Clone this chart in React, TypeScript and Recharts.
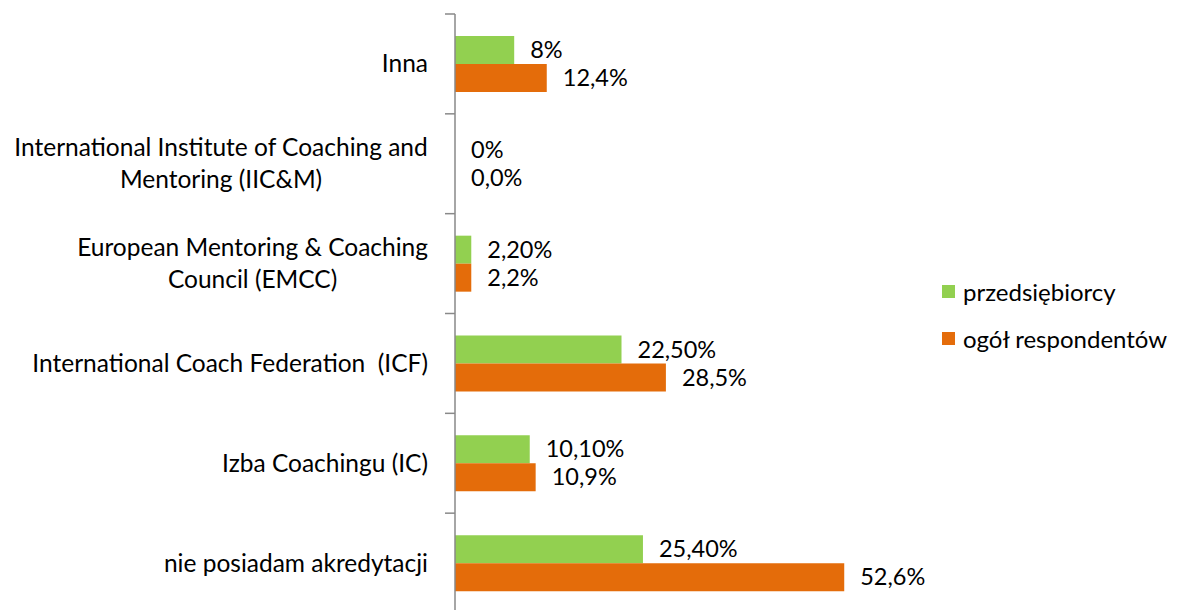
import React from "react";
import { ComposedChart, Bar, Line, XAxis, YAxis, LabelList } from "recharts";

const categories = [
  "Inna",
  "International Institute of Coaching and\nMentoring (IIC&M)",
  "European Mentoring & Coaching\nCouncil (EMCC)",
  "International Coach Federation  (ICF)",
  "Izba Coachingu (IC)",
  "nie posiadam akredytacji",
];
const przedsiebiorcy = [8, 0, 2.2, 22.5, 10.1, 25.4];
const przedsiebiorcyLabels = ["8%", "0%", "2,20%", "22,50%", "10,10%", "25,40%"];
const ogol = [12.4, 0, 2.2, 28.5, 10.9, 52.6];
const ogolLabels = ["12,4%", "0,0%", "2,2%", "28,5%", "10,9%", "52,6%"];
const seriesNames = ["przedsiębiorcy", "ogół respondentów"];
const seriesColors = ["#92D050", "#E46C0A"];

const data = categories.map((c, i) => ({
  name: c,
  p: przedsiebiorcy[i],
  pl: przedsiebiorcyLabels[i],
  o: ogol[i],
  ol: ogolLabels[i],
}));

const FONT = "Lato, 'Noto Sans', sans-serif";
const FS = 24.5;
const LFS = 23.5;
const LEGFS = 24;
const W = 1170;
const H = 610;
const M = { top: 6, right: 279, bottom: 5, left: 0 };
const BAND = (H - M.top - M.bottom) / categories.length;
const BAR = 28;

let ctx: CanvasRenderingContext2D | null = null;
function measure(t: string) {
  if (!ctx) {
    const c = document.createElement("canvas");
    ctx = c.getContext("2d");
  }
  if (!ctx) return t.length * FS * 0.5;
  ctx.font = `${FS}px Lato`;
  return ctx.measureText(t).width;
}

const CategoryTick = (props: any) => {
  const { x, y, payload } = props;
  const lines: string[] = String(payload.value).split("\n");
  const maxW = Math.max(...lines.map(measure));
  const right = x - 27;
  const cx = right - maxW / 2;
  const lh = 32;
  const startY = y - ((lines.length - 1) * lh) / 2;
  const idx = payload.index;
  return (
    <g>
      <line x1={x - 10} x2={x} y1={y - BAND / 2} y2={y - BAND / 2} stroke="#898989" strokeWidth={1.5} />
      {idx === categories.length - 1 && (
        <line x1={x - 10} x2={x} y1={y + BAND / 2} y2={y + BAND / 2} stroke="#898989" strokeWidth={1.5} />
      )}
      <text
        x={cx}
        y={startY}
        textAnchor="middle"
        fontFamily={FONT}
        fontSize={FS}
        fill="#000"
        style={{ whiteSpace: "pre" }}
      >
        {lines.map((l, i) => (
          <tspan key={i} x={cx} y={startY + i * lh} dy="0.35em">
            {l}
          </tspan>
        ))}
      </text>
    </g>
  );
};

const makeLabel = (shift: number) => (props: any) => {
  const { x, y, value } = props;
  return (
    <text
      x={x + 16}
      y={y + shift}
      dy="0.35em"
      fontFamily={FONT}
      fontSize={LFS}
      fill="#000"
      textAnchor="start"
    >
      {value}
    </text>
  );
};

export default function App() {
  return (
    <div style={{ position: "relative", width: W, height: H }}>
      <ComposedChart
        width={W}
        height={H}
        data={data}
        layout="vertical"
        margin={M}
        barGap={0}
        style={{ fontFamily: FONT }}
      >
        <XAxis type="number" hide domain={[0, 60]} />
        <YAxis
          type="category"
          dataKey="name"
          width={447}
          axisLine={{ stroke: "#898989", strokeWidth: 1.5 }}
          tickLine={false}
          tickSize={0}
          tickMargin={0}
          interval={0}
          tick={<CategoryTick />}
        />
        <Bar dataKey="p" name={seriesNames[0]} fill={seriesColors[0]} barSize={BAR} isAnimationActive={false} />
        <Bar dataKey="o" name={seriesNames[1]} fill={seriesColors[1]} barSize={BAR} isAnimationActive={false} />
        <Line
          dataKey="p"
          stroke="none"
          dot={false}
          activeDot={false}
          legendType="none"
          isAnimationActive={false}
        >
          <LabelList dataKey="pl" content={makeLabel(-BAR / 2)} />
        </Line>
        <Line
          dataKey="o"
          stroke="none"
          dot={false}
          activeDot={false}
          legendType="none"
          isAnimationActive={false}
        >
          <LabelList dataKey="ol" content={makeLabel(BAR / 2)} />
        </Line>
      </ComposedChart>
      <div
        style={{
          position: "absolute",
          left: 934,
          top: 260,
          fontFamily: FONT,
          fontSize: LEGFS,
          color: "#000",
        }}
      >
        {seriesNames.map((n, i) => (
          <div key={n} style={{ display: "flex", alignItems: "center", height: 47, whiteSpace: "nowrap" }}>
            <div style={{ width: 13, height: 13, background: seriesColors[i], marginRight: 8 }} />
            <span>{n}</span>
          </div>
        ))}
      </div>
    </div>
  );
}
